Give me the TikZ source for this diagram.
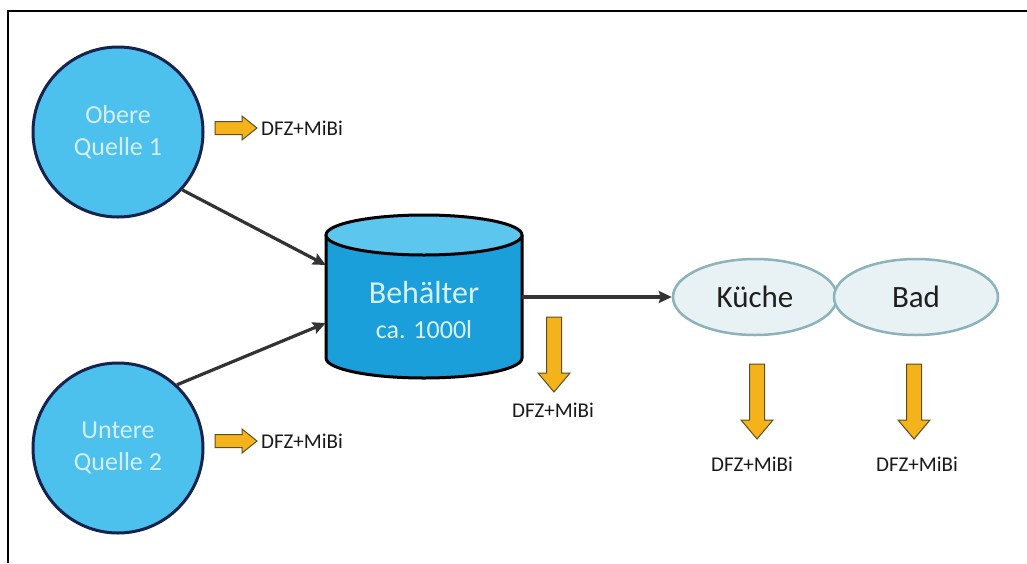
\documentclass[tikz,border=0pt]{standalone}
\usepackage{fontspec}
\setmainfont{Carlito}
\usetikzlibrary{arrows.meta,shapes.geometric}

\definecolor{srcfill}{HTML}{4DC1EE}
\definecolor{srcline}{HTML}{15234F}
\definecolor{srctext}{HTML}{D4EEF9}
\definecolor{tankbody}{HTML}{1A9FDB}
\definecolor{tanktop}{HTML}{5CC6EE}
\definecolor{tanktext}{HTML}{D8F0FA}
\definecolor{roomfill}{HTML}{E8F1F4}
\definecolor{roomline}{HTML}{8CB2BA}
\definecolor{flowline}{HTML}{333333}
\definecolor{sampfill}{HTML}{F5B31B}
\definecolor{sampline}{HTML}{5E4D1E}

\tikzset{
  source/.style={circle, fill=srcfill, draw=srcline, line width=3pt,
    minimum size=170pt, inner sep=0pt, text=srctext, align=center,
    font=\fontsize{26}{32}\selectfont},
  room/.style={ellipse, fill=roomfill, draw=roomline, line width=2.5pt,
    minimum width=164pt, minimum height=76pt, inner sep=0pt,
    font=\fontsize{31}{36}\selectfont, text=black!88},
  flow/.style={draw=flowline, line width=3.2pt,
    -{Stealth[length=13pt,width=12pt,inset=2pt]}},
  sample/.style={fill=sampfill, draw=sampline, line width=1pt, line join=miter},
  samplabel/.style={font=\fontsize{21}{24}\selectfont, text=black!90, inner sep=0pt},
}

% block arrows marking sampling points
\newcommand\rightblock[1]{%
  \draw[sample] (#1) ++(0,-6.5) -- ++(27,0) -- ++(0,-5.5) -- ++(15,12)
    -- ++(-15,12) -- ++(0,-5.5) -- ++(-27,0) -- cycle;}
\newcommand\downblock[1]{%
  \draw[sample] (#1) ++(-7.5,0) -- ++(15,0) -- ++(0,56) -- ++(8.5,0)
    -- ++(-16,19) -- ++(-16,-19) -- ++(8.5,0) -- cycle;}

\begin{document}
\begin{tikzpicture}[x=1pt, y=-1pt]
\useasboundingbox (0,0) rectangle (1027,563);

% frame (top and left edges)
\draw[line width=2pt, black] (8,563) -- (8,11) -- (1027,11);

% springs
\node[source] (q1) at (118,132) {Obere\\Quelle 1};
\node[source] (q2) at (118,448) {Untere\\Quelle 2};

% tank
\fill[tankbody] (326,235) -- (326,358)
  arc[start angle=180, end angle=360, x radius=98pt, y radius=20pt]
  -- (522,235) -- cycle;
\draw[black, line width=3pt] (326,235) -- (326,358)
  arc[start angle=180, end angle=360, x radius=98pt, y radius=20pt]
  -- (522,235);
\draw[black, line width=3pt, fill=tanktop] (424,235)
  ellipse[x radius=98pt, y radius=20pt];
\node[minimum width=196pt, minimum height=150pt, inner sep=0pt] (tank) at (424,297) {};
\node[text=tanktext, font=\fontsize{32}{38}\selectfont] (tanklabel) at (424,293) {Behälter};
\node[text=tanktext, font=\fontsize{26}{30}\selectfont] (tankvol) at (424,330) {ca. 1000l};

% rooms
\node[room] (kueche) at (755,297) {Küche};
\node[room] (bad) at (916,297) {Bad};

% water flow
\draw[flow] (q1.-42) -- ([yshift=32pt]tank.west);
\draw[flow] (q2.47) -- ([yshift=-26pt]tank.west);
\draw[flow] (tank.east) -- (kueche.west);

% sampling points
\coordinate (s1) at (215,128);
\coordinate (s2) at (215,441);
\coordinate (s3) at (554,317);
\coordinate (s4) at (757,364);
\coordinate (s5) at (914,364);
\rightblock{s1}
\rightblock{s2}
\downblock{s3}
\downblock{s4}
\downblock{s5}
\node[samplabel, anchor=west] (l1) at (261,128) {DFZ+MiBi};
\node[samplabel, anchor=west] (l2) at (261,441) {DFZ+MiBi};
\node[samplabel] (l3) at (553,410) {DFZ+MiBi};
\node[samplabel] (l4) at (752,464) {DFZ+MiBi};
\node[samplabel] (l5) at (917,464) {DFZ+MiBi};
\end{tikzpicture}
\end{document}
